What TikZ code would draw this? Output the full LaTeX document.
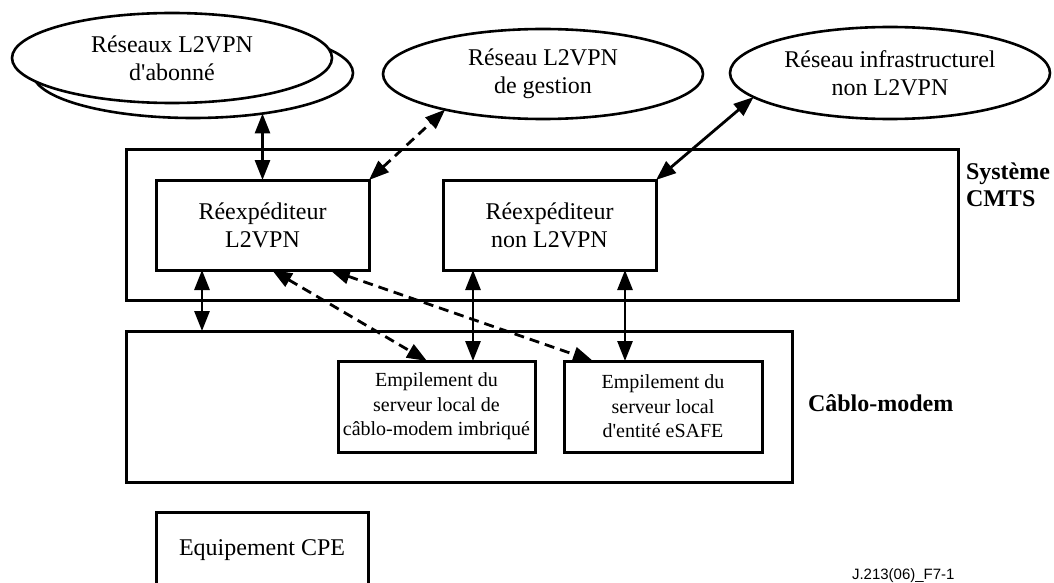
\documentclass[tikz,border=0pt]{standalone}
\usepackage{fontspec}
\setmainfont{Liberation Serif}
\newfontfamily\refsans{Liberation Sans}
\usetikzlibrary{shapes.geometric,arrows.meta}

\begin{document}
\begin{tikzpicture}[x=1pt,y=-1pt,
  >={Triangle[length=20pt,width=15pt]},
  every node/.style={font=\fontsize{24}{28}\selectfont, align=center, inner sep=0pt, outer sep=0pt},
  net/.style={ellipse, draw, line width=2.6pt, fill=white, minimum width=320pt, minimum height=90pt},
  box/.style={rectangle, draw, line width=3pt},
  small/.style={font=\fontsize{20}{24.5}\selectfont},
  tag/.style={font=\fontsize{24}{27}\selectfont\bfseries, align=left, anchor=west},
  link/.style={line width=2.8pt, <->},
  dlink/.style={link, dash pattern=on 10pt off 6pt},
]
% page frame
\fill[white] (0,0) rectangle (1054,583);
\useasboundingbox (0,0) rectangle (1054,583);
\clip (0,0) rectangle (1054,583);

% CMTS and its forwarders
\node[box, minimum width=832pt, minimum height=151pt] (cmts) at (542,224.5) {};
\node[box, minimum width=213pt, minimum height=90pt] (rl) at (262.5,225) {Réexpéditeur\\L2VPN};
\node[box, minimum width=213pt, minimum height=90pt] (rn) at (549.5,225) {Réexpéditeur\\non L2VPN};
\node[tag] (lcmts) at (966,185) {Système\\CMTS};

% cable modem and its local server stacks
\node[box, minimum width=666pt, minimum height=151pt] (cm) at (459,406.5) {};
\node[box, small, minimum width=197pt, minimum height=91pt] (em1) at (436.5,406.5) {Empilement du\\serveur local de\\câblo-modem imbriqué};
\node[box, small, minimum width=198pt, minimum height=91pt] (em2) at (663,406.5) {Empilement du\\serveur local\\d\textquotesingle entité eSAFE};
\node[tag] (lcm) at (808,403) {Câblo-modem};

% customer equipment
\node[box, minimum width=212pt, minimum height=76pt] (cpe) at (262,550) {Equipement CPE};

% networks
\node[net] (e1b) at (193,73) {};
\node[net] (e1) at (172,58) {Réseaux L2VPN\\d\textquotesingle abonné};
\node[net] (e2) at (543,74) {Réseau L2VPN\\de gestion};
\node[net, minimum height=92pt] (e3) at (890,73) {Réseau infrastructurel\\non L2VPN};

% connectors
\draw[link] (rl.north) -- (rl.north |- e1b.-30);
\draw[dlink] (rl.north east) -- (e2.200);
\draw[link] (rn.north east) -- (e3.190);
\draw[link] ([xshift=-60.5pt]rl.south) -- ([xshift=-60.5pt]rl.south |- cm.north);
\draw[dlink] ([xshift=9.5pt]rl.south) -- ([xshift=-9.5pt]em1.north);
\draw[dlink] ([xshift=67.5pt]rl.south) -- ([xshift=-70pt]em2.north);
\draw[link] ([xshift=-76.5pt]rn.south) -- ([xshift=-76.5pt]rn.south |- em1.north);
\draw[link] ([xshift=75.5pt]rn.south) -- ([xshift=75.5pt]rn.south |- em2.north);

% figure reference
\node[anchor=north west, font=\refsans\fontsize{15}{18}\selectfont] (ref) at (852,569) {J.213(06)\_F7-1};
\end{tikzpicture}
\end{document}
